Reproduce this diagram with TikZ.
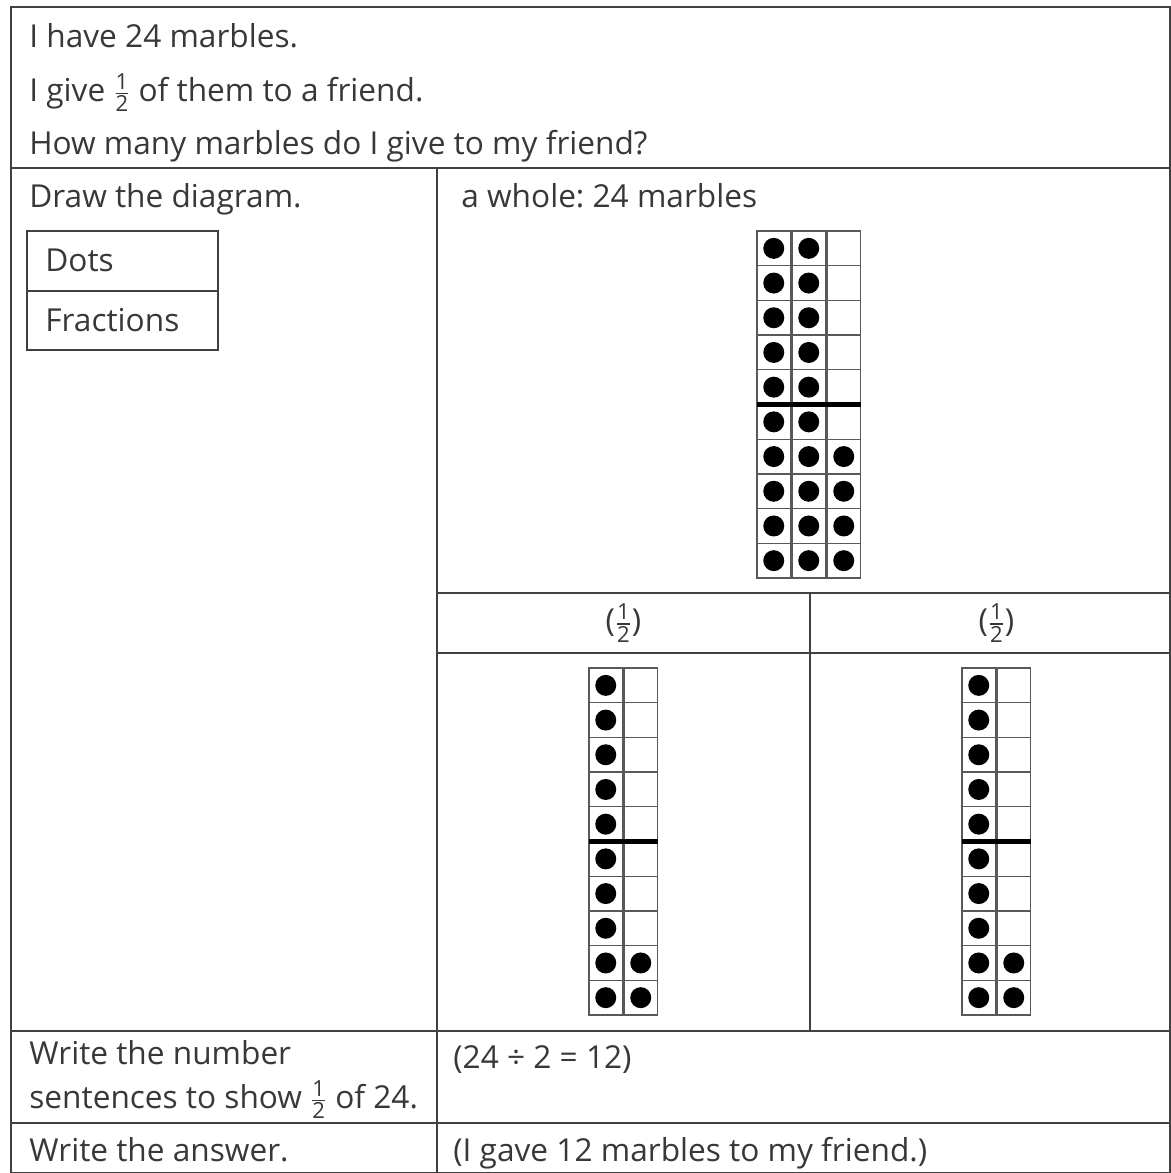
\documentclass[tikz,border=0pt]{standalone}
\usepackage{fontspec}
\usepackage{amsmath}
\setmainfont{Open Sans}
\frenchspacing
\usetikzlibrary{positioning}

\newcommand{\halfsign}{\ensuremath{\tfrac{\text{1}}{\text{2}}}}
% grid of cells: #1 x, #2 y, #3 filled cells per column (from the bottom), #4 columns
\newcommand{\marblegrid}[4]{%
  \foreach \cnt [count=\col from 0] in {#3} {
    \foreach \row in {0,...,9} {
      \draw[cell] ({#1+\col*35},{#2+\row*34.7}) rectangle ++(33.5,34.7);
      \ifnum\row<\numexpr10-\cnt\relax\else
        \fill[marble] ({#1+\col*35+16.75},{#2+\row*34.7+17.35}) circle[radius=10.5];
      \fi
    }
  }
  \draw[divider] (#1,{#2+5*34.7}) -- ++({#4*35-1.5},0);
}

\begin{document}
\begin{tikzpicture}[x=0.02cm, y=-0.02cm,
    txt/.style={anchor=base west, inner sep=0pt, text=black!78,
      font=\fontsize{18}{22}\selectfont},
    rule/.style={draw=black!75, line width=0.8pt},
    cell/.style={draw=black!65, line width=0.7pt},
    marble/.style={fill=black},
    divider/.style={draw=black, line width=2.5pt}]
    \useasboundingbox (0,0) rectangle (1170,1173);

    % table
    \draw[rule] (11,7) rectangle (1170,1173);
    \draw[rule] (11,168) -- (1170,168);
    \draw[rule] (437,168) -- (437,1173);
    \draw[rule] (437,593) -- (1170,593);
    \draw[rule] (437,653) -- (1170,653);
    \draw[rule] (810,593) -- (810,1031);
    \draw[rule] (11,1031) -- (1170,1031);
    \draw[rule] (11,1123) -- (1170,1123);

    % question
    \node[txt] (have) at (29,47) {I have 24 marbles.};
    \node[txt] (give) at (29,101) {I give \halfsign{} of them to a friend.};
    \node[txt] (ask) at (29,154) {How many marbles do I give to my friend?};

    % diagram row
    \node[txt] (draw) at (29,207) {Draw the diagram.};
    \draw[rule] (27,231) rectangle (218,350);
    \draw[rule] (27,291) -- (218,291);
    \node[txt] (dots) at (45,271) {Dots};
    \node[txt] (fractions) at (45,331) {Fractions};

    \node[txt] (whole) at (461,207) {a whole: 24 marbles};
    \marblegrid{757}{231}{10,10,4}{3}

    \node[txt, anchor=center] (halfA) at (623.5,623) {(\halfsign)};
    \node[txt, anchor=center] (halfB) at (996.5,623) {(\halfsign)};
    \marblegrid{589}{668}{10,2}{2}
    \marblegrid{962}{668}{10,2}{2}

    % number sentence and answer
    \node[txt] (write) at (29,1064) {Write the number};
    \node[txt] (sentences) at (29,1108) {sentences to show \halfsign{} of 24.};
    \node[txt] (division) at (453,1068) {(24 ÷ 2 = 12)};
    \node[txt] (answer) at (29,1161) {Write the answer.};
    \node[txt] (gave) at (453,1161) {(I gave 12 marbles to my friend.)};
\end{tikzpicture}
\end{document}
